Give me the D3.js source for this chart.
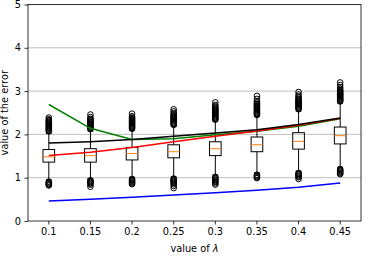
<!DOCTYPE html>
<html><head><meta charset="utf-8">
<script src="https://cdn.jsdelivr.net/npm/d3@7"></script>
<style>body{margin:0;background:#fff}svg{display:block}text{font-family:"DejaVu Sans",sans-serif}</style>
</head><body>
<script>
const categories = ["0.1","0.15","0.2","0.25","0.3","0.35","0.4","0.45"];
const yTicks = [0,1,2,3,4,5];
const q1 = [1.36,1.36,1.41,1.46,1.51,1.60,1.66,1.78];
const median = [1.48,1.51,1.56,1.60,1.67,1.76,1.84,1.97];
const q3 = [1.65,1.67,1.70,1.76,1.83,1.94,2.04,2.17];
const whiskerLow = [0.95,0.98,1.01,1.02,1.06,1.11,1.15,1.24];
const whiskerHigh = [2.02,2.08,2.10,2.18,2.30,2.41,2.54,2.72];
const outliersHigh = [
  [2.07,2.09,2.11,2.13,2.15,2.17,2.19,2.21,2.23,2.25,2.27,2.29,2.31,2.33,2.35,2.39],
  [2.12,2.14,2.16,2.18,2.20,2.22,2.24,2.26,2.28,2.30,2.32,2.34,2.36,2.40,2.46],
  [2.13,2.15,2.17,2.19,2.21,2.23,2.25,2.27,2.29,2.31,2.33,2.35,2.37,2.39,2.42,2.48],
  [2.22,2.24,2.26,2.28,2.30,2.32,2.34,2.36,2.38,2.40,2.42,2.44,2.46,2.49,2.53,2.58],
  [2.34,2.36,2.38,2.40,2.42,2.44,2.46,2.48,2.50,2.52,2.54,2.56,2.58,2.60,2.62,2.65,2.68,2.74],
  [2.45,2.47,2.49,2.51,2.53,2.55,2.57,2.59,2.61,2.63,2.65,2.67,2.69,2.71,2.74,2.77,2.82,2.89],
  [2.58,2.60,2.62,2.64,2.66,2.68,2.70,2.72,2.74,2.76,2.78,2.80,2.82,2.85,2.88,2.92,2.98],
  [2.76,2.78,2.80,2.82,2.84,2.86,2.88,2.90,2.92,2.94,2.96,2.98,3.00,3.02,3.05,3.09,3.14,3.20]
];
const outliersLow = [
  [0.91,0.89,0.87,0.85,0.84,0.82],
  [0.94,0.92,0.90,0.88,0.86,0.84,0.79],
  [0.97,0.95,0.93,0.91,0.89,0.87,0.85],
  [0.98,0.96,0.94,0.92,0.90,0.88,0.85,0.81,0.76],
  [1.02,1.00,0.98,0.96,0.94,0.92,0.90,0.87,0.84],
  [1.07,1.05,1.03,1.01,0.99],
  [1.11,1.09,1.07,1.05,1.03,1.01,0.97],
  [1.20,1.18,1.16,1.14,1.12,1.10,1.08]
];
const redLine   = [1.51,1.59,1.70,1.83,1.96,2.08,2.21,2.37];
const greenLine = [2.69,2.14,1.88,1.90,1.99,2.07,2.19,2.36];
const blackLine = [1.80,1.83,1.88,1.96,2.03,2.11,2.23,2.38];
const blueLine  = [0.46,0.50,0.55,0.60,0.65,0.71,0.78,0.88];

const W = 368, H = 256;
const m = {left:28, right:7, top:4.5, bottom:35};
const svg = d3.select("body").append("svg").attr("width",W).attr("height",H);
const x = d3.scaleBand().domain(categories).range([m.left, W-m.right]).padding(0);
const y = d3.scaleLinear().domain([0,5]).range([H-m.bottom, m.top]);
const cx = c => x(c) + x.bandwidth()/2;
const bw = x.bandwidth()*0.28;

// grid
svg.append("g").selectAll("line").data(yTicks.slice(1,-1)).join("line")
  .attr("x1",m.left).attr("x2",W-m.right)
  .attr("y1",d=>y(d)).attr("y2",d=>y(d))
  .attr("stroke","#b0b0b0").attr("stroke-width",0.8);

// boxes
const g = svg.append("g");
categories.forEach((c,i)=>{
  const X = cx(c);
  g.append("line").attr("x1",X).attr("x2",X).attr("y1",y(q3[i])).attr("y2",y(whiskerHigh[i])).attr("stroke","#000");
  g.append("line").attr("x1",X).attr("x2",X).attr("y1",y(q1[i])).attr("y2",y(whiskerLow[i])).attr("stroke","#000");
  g.append("line").attr("x1",X-bw/4).attr("x2",X+bw/4).attr("y1",y(whiskerHigh[i])).attr("y2",y(whiskerHigh[i])).attr("stroke","#000");
  g.append("line").attr("x1",X-bw/4).attr("x2",X+bw/4).attr("y1",y(whiskerLow[i])).attr("y2",y(whiskerLow[i])).attr("stroke","#000");
  g.append("rect").attr("x",X-bw/2).attr("width",bw).attr("y",y(q3[i])).attr("height",y(q1[i])-y(q3[i]))
    .attr("fill","none").attr("stroke","#000").attr("stroke-width",1);
  g.append("line").attr("x1",X-bw/2).attr("x2",X+bw/2).attr("y1",y(median[i])).attr("y2",y(median[i])).attr("stroke","#ff7f0e");
  outliersHigh[i].concat(outliersLow[i]).forEach(v=>{
    g.append("circle").attr("cx",X).attr("cy",y(v)).attr("r",2.8).attr("fill","none").attr("stroke","#000").attr("stroke-width",1);
  });
});

// lines
const line = d3.line().x((d,i)=>cx(categories[i])).y(d=>y(d));
[[blueLine,"#0000ff"],[greenLine,"#008000"],[redLine,"#ff0000"],[blackLine,"#000000"]].forEach(([d,col])=>{
  svg.append("path").datum(d).attr("d",line).attr("fill","none").attr("stroke",col).attr("stroke-width",1.5);
});

// axes
const xAxis = svg.append("g").attr("transform",`translate(0,${H-m.bottom})`)
  .call(d3.axisBottom(x).tickSize(3.5).tickPadding(3.5));
const yAxis = svg.append("g").attr("transform",`translate(${m.left},0)`)
  .call(d3.axisLeft(y).tickValues(yTicks).tickFormat(d3.format("d")).tickSize(3.5).tickPadding(3.5));
[xAxis,yAxis].forEach(a=>{
  a.select(".domain").remove();
  a.selectAll("text").attr("font-size","9.8px").attr("font-family","DejaVu Sans").attr("fill","#000");
  a.selectAll("line").attr("stroke","#000").attr("stroke-width",0.8);
});
// frame
svg.append("rect").attr("x",m.left).attr("y",m.top).attr("width",W-m.right-m.left).attr("height",H-m.bottom-m.top)
  .attr("fill","none").attr("stroke","#000").attr("stroke-width",0.8);

const xl = svg.append("text").attr("x",(m.left+W-m.right)/2).attr("y",252).attr("text-anchor","middle")
  .attr("font-size","9.8px");
xl.append("tspan").text("value of ");
xl.append("tspan").attr("font-style","italic").text("λ");
svg.append("text").attr("transform",`translate(8,${(m.top+H-m.bottom)/2}) rotate(-90)`).attr("text-anchor","middle")
  .attr("font-size","9.8px").text("value of the error");
</script>
</body></html>
